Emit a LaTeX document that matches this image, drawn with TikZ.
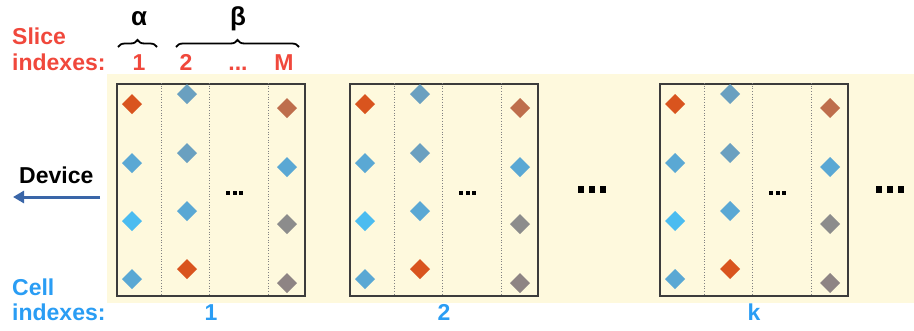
\documentclass[tikz,border=0pt]{standalone}
\usepackage{fontspec}
\setmainfont{Liberation Sans}
\usetikzlibrary{decorations.pathreplacing,arrows.meta}
\definecolor{bg}{RGB}{254,249,221}
\definecolor{boxc}{RGB}{60,60,60}
\definecolor{divc}{RGB}{130,130,130}
\definecolor{slicec}{RGB}{240,72,60}
\definecolor{cellc}{RGB}{42,157,244}
\definecolor{arrowc}{RGB}{58,102,168}
\definecolor{cOr}{RGB}{217,84,30}
\definecolor{cBl}{RGB}{90,168,212}
\definecolor{cBb}{RGB}{75,188,240}
\definecolor{cGb}{RGB}{106,160,192}
\definecolor{cBr}{RGB}{190,110,76}
\definecolor{cGr}{RGB}{140,140,140}
\definecolor{cGbr}{RGB}{142,132,132}
\begin{document}
\begin{tikzpicture}[x=1pt,y=-1pt,
  lab/.style={font=\fontsize{23}{27}\selectfont\bfseries, inner sep=0},
  greek/.style={font=\fontsize{26}{28}\selectfont\bfseries, inner sep=0},
  cellbox/.style={draw=boxc, line width=1.6, minimum width=188, minimum height=212, anchor=north west, inner sep=0},
  divider/.style={divc, dotted, line width=0.7},
  bracestyle/.style={decorate, decoration={brace, amplitude=7}, line width=1.8}]
\useasboundingbox (0,0) rectangle (914,330);
\fill[bg] (107,74) rectangle (914,303);
% boxes
\foreach \L/\n [count=\i] in {116/1,349/2,659/k} {
  \node[cellbox] (box\i) at (\L,83) {};
  \foreach \d in {45,93,152} \draw[divider] ({\L+\d},83) -- ({\L+\d},295);
  \foreach \dx/\dy/\c in {16/104/cOr,16/163/cBl,16/221/cBb,16/279/cBl,
                          71/94/cGb,71/153/cGb,71/211/cBl,71/269/cOr,
                          171/108/cBr,171/167/cBl,171/224/cGr,171/283/cGbr}
    \fill[\c] ({\L+\dx-10},\dy) -- ++(10,-10) -- ++(10,10) -- ++(-10,10) -- cycle;
  \foreach \k in {-6.5,0,6.5} \fill ({\L+118.5+\k-2},191) rectangle ++(4,4);
  \node[lab, text=cellc, anchor=base] (ci\i) at ({\L+95},320) {\n};
}
% big dots
\foreach \cx in {581,592,603,879,890,901} \fill ({\cx-3},186) rectangle ++(6,6.5);
% slice labels
\node[lab, text=slicec, anchor=base west] (slice) at (12,44.5) {Slice};
\node[lab, text=slicec, anchor=base west] (sidx) at (12,70) {indexes:};
\node[lab, text=slicec, anchor=base] (s1) at (139,70) {1};
\node[lab, text=slicec, anchor=base] (s2) at (186,70) {2};
\node[lab, text=slicec, anchor=base] (sd) at (238,70) {...};
\node[lab, text=slicec, anchor=base] (sM) at (284,70) {M};
% braces and greek
\draw[bracestyle] (118,47) -- (157,47);
\draw[bracestyle] (176,47) -- (299,47);
\node[greek, anchor=base] (alpha) at (139,25) {α};
\node[greek, anchor=base] (beta) at (238,25) {β};
% device
\node[lab, anchor=base west] (dev) at (19,183) {Device};
\coordinate (arrS) at (100,197);
\coordinate (arrE) at (13,197);
\draw[-{Triangle[length=11,width=12]}, arrowc, line width=3] (arrS) -- (arrE);
% cell labels
\node[lab, text=cellc, anchor=base west] (cell) at (12,295) {Cell};
\node[lab, text=cellc, anchor=base west] (cidx) at (12,320) {indexes:};
\end{tikzpicture}
\end{document}
